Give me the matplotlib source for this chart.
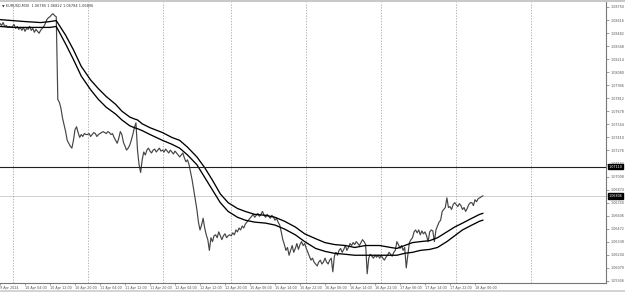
import numpy as np
import matplotlib
matplotlib.use("Agg")
import matplotlib.pyplot as plt

# EURUSD M30 closes, one list per trading day (9 Apr 20:00 .. 18 Apr 08:30)
apr09 = [1.0858, 1.0856, 1.0859, 1.0855, 1.0856, 1.0854, 1.0855, 1.0854]
apr10 = [1.0855, 1.0857, 1.0853, 1.0855, 1.0852, 1.0854, 1.0851, 1.0854, 1.0850, 1.0853,
         1.0852, 1.0855, 1.0851, 1.0853, 1.0849, 1.0852, 1.0850, 1.0848,
         1.0851, 1.0853, 1.0855, 1.0858, 1.0862, 1.0864, 1.0865, 1.0867, 1.0868, 1.0866, 1.0865,
         1.0780,
         1.0777, 1.0771, 1.0761, 1.0754, 1.0747, 1.0738, 1.0735, 1.0732, 1.0730, 1.0738,
         1.0749, 1.0752, 1.0746, 1.0741, 1.0744, 1.0742, 1.0745, 1.0744]
apr11 = [1.0744, 1.0745, 1.0742, 1.0744, 1.0746, 1.0745, 1.0742, 1.0744, 1.0745, 1.0746,
         1.0747, 1.0746, 1.0745, 1.0747, 1.0746, 1.0744, 1.0745,
         1.0741, 1.0738, 1.0735, 1.0740, 1.0747, 1.0744,
         1.0736, 1.0732, 1.0728, 1.0730, 1.0733, 1.0738, 1.0744, 1.0751, 1.0756,
         1.0728, 1.0713, 1.0705, 1.0718,
         1.0726, 1.0723, 1.0728, 1.0730, 1.0727, 1.0725, 1.0728, 1.0729, 1.0726, 1.0728,
         1.0730, 1.0727]
apr12 = [1.0728, 1.0726, 1.0729, 1.0727, 1.0725, 1.0728, 1.0726, 1.0724, 1.0727, 1.0725,
         1.0723, 1.0721, 1.0723, 1.0725, 1.0720, 1.0716, 1.0718, 1.0713,
         1.0705, 1.0697, 1.0687, 1.0677, 1.0667, 1.0654, 1.0646,
         1.0651, 1.0658, 1.0648, 1.0641, 1.0636, 1.0625, 1.0638, 1.0634, 1.0640,
         1.0641, 1.0638, 1.0644, 1.0640, 1.0636, 1.0640, 1.0642, 1.0638, 1.0640, 1.0641]
apr15 = [1.0640, 1.0643, 1.0641, 1.0646, 1.0644, 1.0648, 1.0646, 1.0650, 1.0648, 1.0652,
         1.0654, 1.0656, 1.0658,
         1.0660, 1.0662, 1.0659, 1.0661, 1.0663, 1.0660, 1.0662, 1.0665, 1.0661, 1.0659,
         1.0662, 1.0660, 1.0658, 1.0661, 1.0659, 1.0656, 1.0658, 1.0654, 1.0651,
         1.0644, 1.0636, 1.0631, 1.0625, 1.0628, 1.0620, 1.0625, 1.0630, 1.0623, 1.0627,
         1.0632, 1.0626, 1.0631, 1.0634, 1.0630, 1.0632]
apr16 = [1.0627, 1.0623, 1.0619, 1.0615, 1.0617, 1.0613, 1.0611, 1.0609, 1.0613, 1.0615,
         1.0611, 1.0613, 1.0617, 1.0613, 1.0611, 1.0615, 1.0617, 1.0603, 1.0619,
         1.0623, 1.0620, 1.0625, 1.0627, 1.0623, 1.0626, 1.0630, 1.0625, 1.0628, 1.0632,
         1.0630, 1.0633, 1.0631, 1.0634, 1.0632, 1.0630, 1.0633, 1.0636, 1.0634, 1.0631,
         1.0601, 1.0617, 1.0621, 1.0619, 1.0617, 1.0620, 1.0618, 1.0620, 1.0617]
apr17 = [1.0620, 1.0617, 1.0615, 1.0618, 1.0620, 1.0623,
         1.0621, 1.0619, 1.0623, 1.0625, 1.0634, 1.0631,
         1.0627, 1.0630, 1.0625, 1.0628, 1.0607, 1.0620,
         1.0633, 1.0636, 1.0638, 1.0644, 1.0646,
         1.0643, 1.0646, 1.0641, 1.0645, 1.0642, 1.0644, 1.0640, 1.0634,
         1.0644, 1.0646, 1.0645, 1.0634, 1.0646, 1.0650, 1.0654, 1.0656,
         1.0665, 1.0667, 1.0669, 1.0679, 1.0669, 1.0670, 1.0667, 1.0672, 1.0674]
apr18 = [1.0672, 1.0670, 1.0673, 1.0671, 1.0667, 1.0669, 1.0665, 1.0668,
         1.0672, 1.0674, 1.0674, 1.0671, 1.0677, 1.0675, 1.0678, 1.0679, 1.0680, 1.0681]
closes = apr09 + apr10 + apr11 + apr12 + apr15 + apr16 + apr17 + apr18

# two moving average lines, sampled at bar numbers
ma_bars = [0, 8, 16, 26, 32, 36, 42, 47, 52, 58, 63, 68, 74, 78, 83, 86, 88, 91, 96, 104,
           110, 115, 120, 126, 131, 136, 141, 146, 152, 157, 163, 170, 176, 182, 189, 195,
           202, 208, 214, 221, 227, 234, 240, 243, 250, 254, 259, 264, 269, 275, 280, 286,
           291, 296, 302, 307, 309]
ma_upper = [1.0862, 1.0861, 1.0860, 1.0859, 1.0860, 1.0861, 1.0846, 1.0831, 1.0814, 1.0800,
            1.0791, 1.0783, 1.0775, 1.0768, 1.0762, 1.0760, 1.0759, 1.0755, 1.0751, 1.0746,
            1.0741, 1.0738, 1.0731, 1.0721, 1.0710, 1.0697, 1.0683, 1.0674, 1.0668, 1.0665,
            1.0662, 1.0661, 1.0659, 1.0655, 1.0649, 1.0642, 1.0637, 1.0633, 1.0631, 1.0630,
            1.0628, 1.0630, 1.0630, 1.0630, 1.0628, 1.0627, 1.0630, 1.0633, 1.0634, 1.0635,
            1.0638, 1.0644, 1.0649, 1.0653, 1.0658, 1.0662, 1.0663]
ma_lower = [1.0855, 1.0854, 1.0854, 1.0854, 1.0854, 1.0855, 1.0837, 1.0821, 1.0804, 1.0790,
            1.0780, 1.0772, 1.0765, 1.0759, 1.0753, 1.0751, 1.0750, 1.0748, 1.0744, 1.0738,
            1.0734, 1.0730, 1.0723, 1.0713, 1.0700, 1.0687, 1.0674, 1.0665, 1.0659, 1.0656,
            1.0654, 1.0653, 1.0651, 1.0647, 1.0641, 1.0634, 1.0627, 1.0624, 1.0622, 1.0621,
            1.0620, 1.0620, 1.0620, 1.0620, 1.0620, 1.0620, 1.0622, 1.0623, 1.0625, 1.0626,
            1.0628, 1.0634, 1.0640, 1.0646, 1.0651, 1.0655, 1.0656]

time_labels = ["9 Apr 2024", "10 Apr 04:00", "10 Apr 12:00", "10 Apr 20:00", "11 Apr 04:00",
               "11 Apr 12:00", "11 Apr 20:00", "12 Apr 04:00", "12 Apr 12:00", "12 Apr 20:00",
               "15 Apr 06:00", "15 Apr 14:00", "15 Apr 22:00", "16 Apr 06:00", "16 Apr 14:00",
               "16 Apr 22:00", "17 Apr 06:00", "17 Apr 14:00", "17 Apr 22:00", "18 Apr 06:00"]
day_start_bars = [8, 56, 104, 148, 196, 244, 292, 340]
price_ticks = [1.08750, 1.08616, 1.08482, 1.08348, 1.08214, 1.08080, 1.07946, 1.07812,
               1.07678, 1.07544, 1.07410, 1.07276, 1.07142, 1.07008, 1.06874, 1.06740,
               1.06606, 1.06472, 1.06338, 1.06204, 1.06070, 1.05936]
hline_price = 1.07110
bid_price = 1.06806
header = "\u25bc EURUSD,M30  1.06785 1.06822 1.06784 1.06806"

fig = plt.figure(figsize=(6.25, 2.92), dpi=100)
fig.patch.set_facecolor("white")
ax = fig.add_axes([0.0, 9 / 292, 606 / 625, 281 / 292])

bars = np.arange(len(closes))
ax.plot(bars, closes, color="#454545", lw=0.85)
ax.plot(ma_bars, ma_upper, color="black", lw=0.95)
ax.plot(ma_bars, ma_lower, color="black", lw=0.95)

ax.axhline(hline_price, color="#202020", lw=0.8)
ax.axhline(bid_price, color="#d0d0d0", lw=0.7, zorder=0)
for b in day_start_bars:
    ax.axvline(b, color="#9a9a9a", lw=0.5, ls=(0, (2, 2)), zorder=0)

ax.set_xlim(0, 606 / 1.5625)
ax.set_ylim(1.05915, 1.08801)

ax.yaxis.tick_right()
ax.set_yticks(price_ticks)
ax.set_yticklabels([f"{p:.5f}" for p in price_ticks])
ax.set_xticks(np.arange(len(time_labels)) * 16)
ax.set_xticklabels(time_labels, ha="left")
ax.tick_params(axis="y", labelsize=2.4, length=2, width=0.4, pad=1.5, colors="#555555")
ax.tick_params(axis="x", labelsize=2.4, length=1.2, width=0.4, pad=0.6, colors="#555555")

for s in ["top", "left"]:
    ax.spines[s].set_visible(False)
ax.spines["right"].set_color("#777777")
ax.spines["bottom"].set_color("#777777")
ax.spines["right"].set_linewidth(0.8)
ax.spines["bottom"].set_linewidth(0.8)

# price markers on the scale
for p in [hline_price, bid_price]:
    ax.annotate(f"{p:.5f}", xy=(1.0, p), xycoords=("axes fraction", "data"),
                xytext=(2, 0), textcoords="offset points", fontsize=2.4,
                color="white", va="center", ha="left",
                bbox=dict(boxstyle="square,pad=0.25", fc="black", ec="black"))

ax.text(0.004, 0.993, header, transform=ax.transAxes, fontsize=2.5,
        color="#333333", va="top", ha="left")

# window frame strips
fig.add_artist(plt.Rectangle((0, 0), 1, 2.5 / 292, transform=fig.transFigure,
                             color="#d4d4d4", lw=0))
fig.add_artist(plt.Rectangle((0, 1 - 1.5 / 292), 1, 1.5 / 292, transform=fig.transFigure,
                             color="#c8c8c8", lw=0))

fig.savefig("out.png", dpi=100)
